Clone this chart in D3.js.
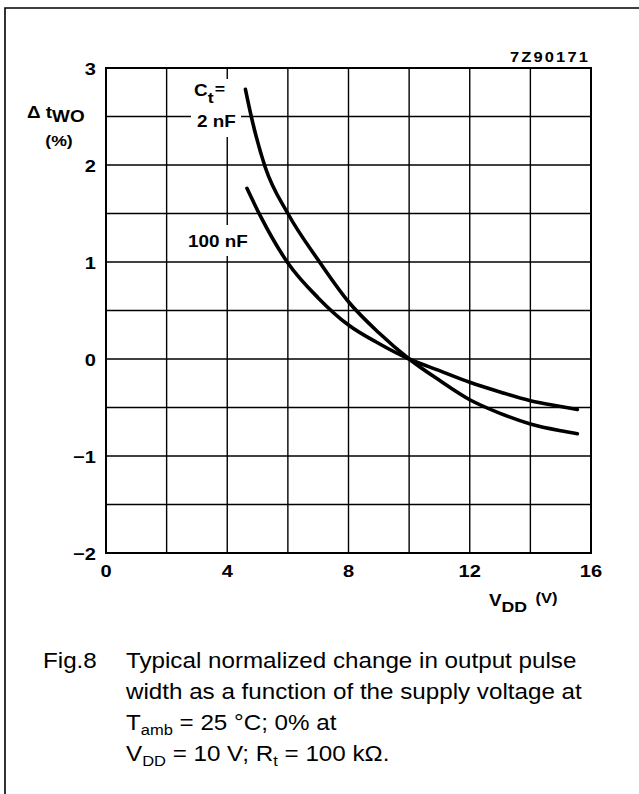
<!DOCTYPE html>
<html><head><meta charset="utf-8">
<script src="https://cdn.jsdelivr.net/npm/d3@7"></script>
<style>html,body{margin:0;padding:0;background:#fff}</style>
</head><body>
<svg id="chart" width="639" height="794"></svg>
<script>
// ---- data ----
const xTicks = [0, 4, 8, 12, 16];
const yTicks = [3, 2, 1, 0, -1, -2];
const yTickLabels = ["3", "2", "1", "0", "\u22121", "\u22122"];
const xGridValues = [0, 2, 4, 6, 8, 10, 12, 14, 16];
const yGridValues = [-2, -1.5, -1, -0.5, 0, 0.5, 1, 1.5, 2, 2.5, 3];

const vdd2nF = [4.6, 4.8, 5.25, 6.0, 7.0, 8.0, 9.0, 10.0, 11.0, 12.0, 13.0, 14.0, 15.0, 15.55];
const dt2nF  = [2.78, 2.49, 1.98, 1.50, 1.02, 0.59, 0.27, 0.0, -0.22, -0.42, -0.56, -0.67, -0.74, -0.77];

const vdd100nF = [4.65, 5.1, 6.0, 7.0, 8.0, 9.0, 10.0, 11.0, 12.0, 13.0, 14.0, 15.0, 15.55];
const dt100nF  = [1.76, 1.47, 0.99, 0.63, 0.35, 0.16, 0.0, -0.12, -0.24, -0.34, -0.43, -0.49, -0.52];

const series = [
  {name: "2 nF", x: vdd2nF, y: dt2nF},
  {name: "100 nF", x: vdd100nF, y: dt100nF}
];

// ---- layout ----
const svg = d3.select("#chart");
const x = d3.scaleLinear().domain([0, 16]).range([106, 591]);
const y = d3.scaleLinear().domain([-2, 3]).range([553, 68]);
const FONT = "'Liberation Sans', Arial, Helvetica, sans-serif";
const SX = 1.18; // horizontal stretch of the scanned chart lettering

function txt(parent, px, py, size, bold, anchor, sx) {
  return parent.append("text")
    .attr("transform", `translate(${px},${py}) scale(${sx || SX},1)`)
    .attr("font-family", FONT)
    .attr("font-weight", bold ? "bold" : "normal")
    .attr("font-size", size)
    .attr("text-anchor", anchor || "start")
    .attr("fill", "#000");
}

// outer frame (open to right/bottom edges)
svg.append("path")
  .attr("d", "M5,794 L5,8 L639,8")
  .attr("fill", "none").attr("stroke", "#000").attr("stroke-width", 1.6);

// grid
const g = svg.append("g");
g.selectAll("line.vg").data(xGridValues).join("line")
  .attr("x1", d => x(d)).attr("x2", d => x(d))
  .attr("y1", y(3)).attr("y2", y(-2))
  .attr("stroke", "#000").attr("stroke-width", 1.4);
g.selectAll("line.hg").data(yGridValues).join("line")
  .attr("y1", d => y(d)).attr("y2", d => y(d))
  .attr("x1", x(0)).attr("x2", x(16))
  .attr("stroke", "#000").attr("stroke-width", 1.4);
g.append("rect")
  .attr("x", x(0)).attr("y", y(3))
  .attr("width", x(16) - x(0)).attr("height", y(-2) - y(3))
  .attr("fill", "none").attr("stroke", "#000").attr("stroke-width", 2);

// white label backgrounds (interrupt grid)
svg.append("rect").attr("x", 191).attr("y", 79).attr("width", 50).attr("height", 58).attr("fill", "#fff");
svg.append("rect").attr("x", 185).attr("y", 225).attr("width", 71).attr("height", 31).attr("fill", "#fff");

// curves
const line = d3.line().x(d => x(d[0])).y(d => y(d[1])).curve(d3.curveMonotoneX);
svg.selectAll("path.curve").data(series).join("path")
  .attr("class", "curve")
  .attr("d", s => line(s.x.map((v, i) => [v, s.y[i]])))
  .attr("fill", "none").attr("stroke", "#000").attr("stroke-width", 3.6)
  .attr("stroke-linecap", "round");

// y tick labels
yTicks.forEach((d, i) => txt(svg, 96, y(d) + 6.5, 17, true, "end").text(yTickLabels[i]));
// x tick labels
xTicks.forEach(d => txt(svg, x(d), 577, 17, true, "middle").text(d));

// y axis title
const yt = txt(svg, 27, 118, 16, true);
yt.append("tspan").text("\u0394 t");
yt.append("tspan").attr("dy", 4).attr("font-size", 16).text("WO");
txt(svg, 59, 146, 15, true, "middle").text("(%)");

// x axis title
const xt = txt(svg, 489, 606, 16, true);
xt.append("tspan").text("V");
xt.append("tspan").attr("dy", 6).attr("font-size", 15).text("DD");
xt.append("tspan").attr("dy", -9).attr("dx", 7).attr("font-size", 14).text("(V)");

// figure code
txt(svg, 590, 62, 14, true, "end").attr("letter-spacing", 1.8).text("7Z90171");

// curve labels
const ct = txt(svg, 194, 96, 16, true);
ct.append("tspan").text("C");
ct.append("tspan").attr("dy", 7).attr("font-size", 15).text("t");
ct.append("tspan").attr("dy", -9).attr("dx", 1).attr("font-size", 15).text("=");
txt(svg, 197, 127, 16, true).text(series[0].name);
txt(svg, 188, 247, 16, true).text(series[1].name);

// caption
const CAP = 22, CSX = 1.1, L0 = 668, LH = 31;
txt(svg, 43, L0, CAP, false, "start", CSX).text("Fig.8");
txt(svg, 126, L0, CAP, false, "start", CSX).text("Typical normalized change in output pulse");
txt(svg, 126, L0 + LH, CAP, false, "start", CSX).text("width as a function of the supply voltage at");
const l3 = txt(svg, 126, L0 + 2 * LH, CAP, false, "start", CSX);
l3.append("tspan").text("T");
l3.append("tspan").attr("font-size", 15).attr("dy", 5).text("amb");
l3.append("tspan").attr("dy", -5).text(" = 25 \u00B0C; 0% at");
const l4 = txt(svg, 126, L0 + 3 * LH, CAP, false, "start", CSX);
l4.append("tspan").text("V");
l4.append("tspan").attr("font-size", 15).attr("dy", 5).text("DD");
l4.append("tspan").attr("dy", -5).text(" = 10 V; R");
l4.append("tspan").attr("font-size", 15).attr("dy", 5).text("t");
l4.append("tspan").attr("dy", -5).text(" = 100 k\u03A9.");
</script>
</body></html>
